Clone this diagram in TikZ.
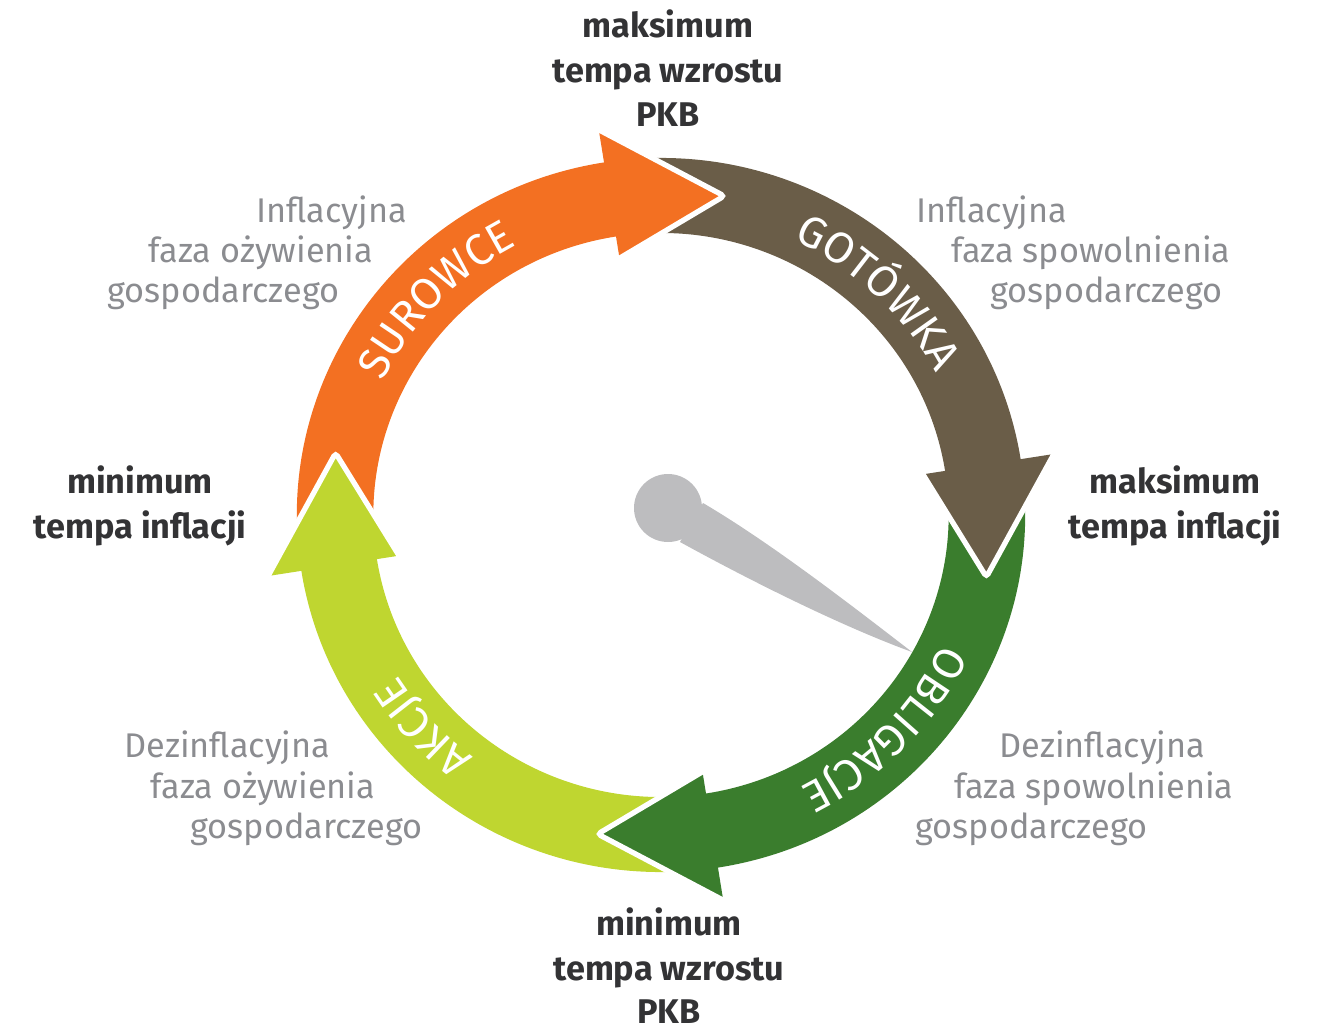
\documentclass[tikz,border=0pt]{standalone}
\usepackage{fontspec}
\setmainfont{Fira Sans}
\usetikzlibrary{decorations.text}
\definecolor{surowce}{HTML}{F37022}
\definecolor{gotowka}{HTML}{6A5D48}
\definecolor{obligacje}{HTML}{3A7D2D}
\definecolor{akcje}{HTML}{BFD630}
\definecolor{needlegray}{HTML}{BDBDBF}
\definecolor{phasegray}{HTML}{8B8C90}
\definecolor{peakgray}{HTML}{333335}
\newcommand{\arcfont}{\fontsize{25}{30}\selectfont\color{white}}
\tikzset{
  peak/.style={text=peakgray, font=\bfseries\fontsize{19.5}{23}\selectfont, anchor=base, inner sep=0pt},
  phase/.style={text=phasegray, font=\fontsize{19.5}{23}\selectfont, anchor=base, inner sep=0pt},
}

\begin{document}
\begin{tikzpicture}[x=0.02cm, y=0.02cm]
\useasboundingbox (-661,-517) rectangle (657,515);

\begin{scope}[xscale=1.02]
% shafts
\foreach \col/\b in {surowce/99, gotowka/9, obligacje/-81, akcje/-171}
    \fill[\col] ({\b+88}:357) arc[start angle=\b+88, end angle=\b-0.5, radius=357]
        -- ({\b-0.5}:282) arc[start angle=\b-0.5, end angle=\b+88, radius=282] -- cycle;
% heads
\foreach \col/\b in {surowce/99, gotowka/9, obligacje/-81, akcje/-171}
{
    \fill[\col, rounded corners=2pt] (\b:390) -- ({\b-20}:325) -- (\b:260) -- cycle;
    \draw[white, line width=3pt, rounded corners=2pt] (\b:390) -- ({\b-20}:325) -- (\b:260);
}
% names on the arcs
\foreach \t/\c in {SUROWCE/136, GOTÓWKA/46, OBLIGACJE/-44, AKCJE/-138}
    \path[decorate, decoration={text along path, text align=center, text/.expanded={|\noexpand\arcfont|\t}}]
        ({\c+45}:304) arc[start angle=\c+45, end angle=\c-45, radius=304];
\end{scope}

% needle
\fill[needlegray] (7,7) circle[radius=34];
\fill[needlegray] (42,12) .. controls (110,-28) and (190,-90) .. (251,-137)
    .. controls (180,-111) and (90,-66) .. (19,-27) -- cycle;

% turning points
\foreach \n/\x/\y/\t in {gdpmaxa/7/477/maksimum, gdpmaxb/7/432/tempa wzrostu, gdpmaxc/7/388/PKB,
    infmina/-521/22/minimum, infminb/-521/-23/tempa inflacji,
    infmaxa/514/22/maksimum, infmaxb/514/-23/tempa inflacji,
    gdpmina/8/-420/minimum, gdpminb/8/-465/tempa wzrostu, gdpminc/8/-508/PKB}
    \node[peak] (\n) at (\x,\y) {\t};

% phases
\foreach \n/\x/\y/\t in {tla/-329.5/293/Inflacyjna, tlb/-400/253/faza ożywienia, tlc/-437.5/213/gospodarczego,
    tra/331/293/Inflacyjna, trb/430/253/faza spowolnienia, trc/445.5/213/gospodarczego,
    bla/-433.5/-242/Dezinflacyjna, blb/-398/-283/faza ożywienia, blc/-354.5/-323/gospodarczego,
    bra/441.5/-242/Dezinflacyjna, brb/433/-283/faza spowolnienia, brc/370.5/-323/gospodarczego}
    \node[phase] (\n) at (\x,\y) {\t};
\end{tikzpicture}
\end{document}
